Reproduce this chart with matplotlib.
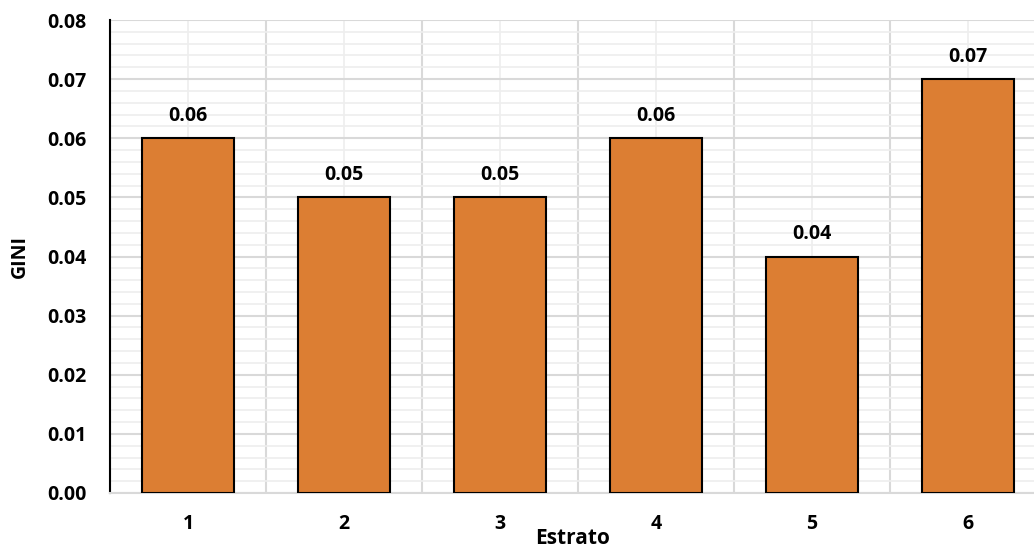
import matplotlib
matplotlib.use("Agg")
import matplotlib.pyplot as plt
from matplotlib.ticker import MultipleLocator, FixedLocator

categories = ["1", "2", "3", "4", "5", "6"]
gini = [0.06, 0.05, 0.05, 0.06, 0.04, 0.07]
labels = ["0.06", "0.05", "0.05", "0.06", "0.04", "0.07"]

plt.rcParams['font.family'] = ['Open Sans', 'DejaVu Sans']

W, H = 1034, 550
fig = plt.figure(figsize=(W / 100, H / 100), dpi=100)
left, right, top, bottom = 110, 1046, 20, 493
ax = fig.add_axes([left / W, 1 - bottom / H, (right - left) / W, (bottom - top) / H])

x = list(range(1, len(categories) + 1))
ax.bar(x, gini, width=0.59, color="#DC7E33", edgecolor="black", linewidth=1.5, zorder=3)
for xi, v, lab in zip(x, gini, labels):
    ax.annotate(lab, (xi, v), xytext=(0, 9), textcoords="offset points",
                ha="center", va="bottom", fontsize=14, fontweight="bold", zorder=4)

ax.set_xlim(0.5, len(categories) + 0.5)
ax.set_ylim(0, 0.08)
ax.yaxis.set_major_locator(MultipleLocator(0.01))
ax.yaxis.set_minor_locator(MultipleLocator(0.002))
ax.set_yticklabels([f"{t:.2f}" for t in ax.get_yticks()])
ax.xaxis.set_major_locator(FixedLocator(x))
ax.set_xticklabels(categories)
ax.xaxis.set_minor_locator(FixedLocator([i + 0.5 for i in range(0, len(categories) + 1)]))

ax.grid(which="major", axis="y", color="#D9D9D9", linewidth=1.5, zorder=0)
ax.grid(which="minor", axis="y", color="#EEEEEE", linewidth=1.2, zorder=0)
ax.grid(which="minor", axis="x", color="#D9D9D9", linewidth=1.5, zorder=0)
ax.grid(which="major", axis="x", color="#EEEEEE", linewidth=1.2, zorder=0)

for s in ["top", "right"]:
    ax.spines[s].set_visible(False)
ax.spines["bottom"].set_color("#D9D9D9")
ax.spines["bottom"].set_linewidth(1.5)
ax.spines["left"].set_color("black")
ax.spines["left"].set_linewidth(1.5)

ax.tick_params(which="both", length=0)
ax.tick_params(axis="y", pad=17, labelsize=14)
ax.tick_params(axis="x", pad=15, labelsize=14)
for t in ax.get_xticklabels() + ax.get_yticklabels():
    t.set_fontweight("bold")

fig.text(20 / W, 1 - 257 / H, "GINI", rotation=90, ha="center", va="center",
         fontsize=14, fontweight="bold")
fig.text(573 / W, 1 - 538 / H, "Estrato", ha="center", va="center",
         fontsize=15, fontweight="bold")

fig.savefig("out.png", dpi=100)
